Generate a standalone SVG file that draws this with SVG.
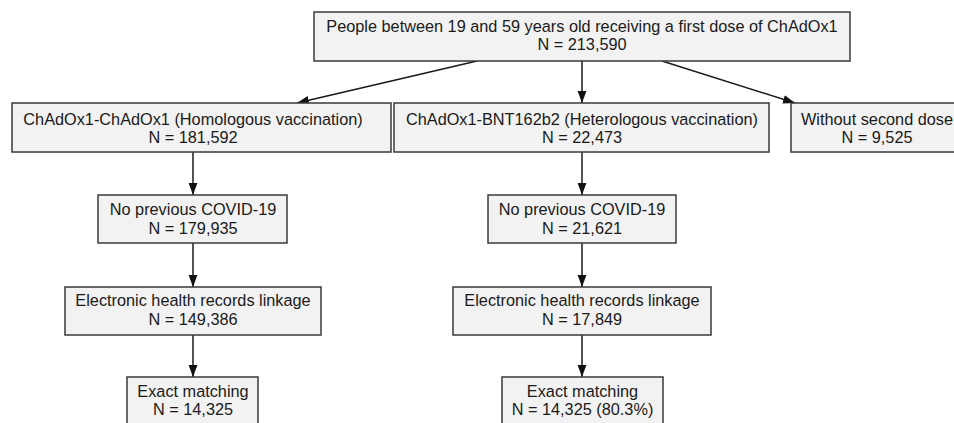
<svg xmlns="http://www.w3.org/2000/svg" width="954" height="423" viewBox="0 0 954 423">
<defs>
<style>
.box{fill:#f2f2f2;stroke:#3a3a3a;stroke-width:1.5}
.t{font-family:"Liberation Sans",Arial,sans-serif;font-size:16.3px;fill:#1a1a1a;text-anchor:middle}
.c{stroke:#1a1a1a;stroke-width:1.5;fill:none}
</style>
<marker id="ah" viewBox="0 0 12 10" refX="12" refY="5" markerWidth="12" markerHeight="10" markerUnits="userSpaceOnUse" orient="auto">
<path d="M0,0.6 L12,5 L0,9.4 z" fill="#111"/>
</marker>
</defs>
<rect width="954" height="423" fill="#fff"/>
<g id="connectors">
<line class="c" x1="477" y1="61" x2="297" y2="103" marker-end="url(#ah)"/>
<line class="c" x1="582" y1="61" x2="582" y2="103" marker-end="url(#ah)"/>
<line class="c" x1="662" y1="61" x2="795" y2="103" marker-end="url(#ah)"/>
<line class="c" x1="193" y1="152" x2="193" y2="195" marker-end="url(#ah)"/>
<line class="c" x1="193" y1="243" x2="193" y2="287" marker-end="url(#ah)"/>
<line class="c" x1="193" y1="335" x2="193" y2="377" marker-end="url(#ah)"/>
<line class="c" x1="582" y1="152" x2="582" y2="195" marker-end="url(#ah)"/>
<line class="c" x1="582" y1="243" x2="582" y2="287" marker-end="url(#ah)"/>
<line class="c" x1="582" y1="335" x2="582" y2="377" marker-end="url(#ah)"/>
</g>
<g id="top">
<rect class="box" x="314" y="12" width="536" height="49"/>
<text class="t" x="582" y="31.5">People between 19 and 59 years old receiving a first dose of ChAdOx1</text>
<text class="t" x="582" y="50">N = 213,590</text>
</g>
<g id="homologous">
<rect class="box" x="12" y="103" width="379" height="49"/>
<text class="t" x="193" y="125">ChAdOx1-ChAdOx1 (Homologous vaccination)</text>
<text class="t" x="193" y="143">N = 181,592</text>
</g>
<g id="heterologous">
<rect class="box" x="394" y="103" width="375" height="49"/>
<text class="t" x="582" y="125">ChAdOx1-BNT162b2 (Heterologous vaccination)</text>
<text class="t" x="582" y="143">N = 22,473</text>
</g>
<g id="without">
<rect class="box" x="791" y="103" width="172" height="49"/>
<text class="t" x="877" y="125">Without second dose</text>
<text class="t" x="877" y="143">N = 9,525</text>
</g>
<g id="homo-noprev">
<rect class="box" x="98" y="195" width="189" height="48"/>
<text class="t" x="193" y="214.5">No previous COVID-19</text>
<text class="t" x="193" y="234">N = 179,935</text>
</g>
<g id="homo-ehr">
<rect class="box" x="65" y="287" width="256" height="48"/>
<text class="t" x="193" y="306">Electronic health records linkage</text>
<text class="t" x="193" y="325">N = 149,386</text>
</g>
<g id="homo-exact">
<rect class="box" x="127" y="377" width="131" height="60"/>
<text class="t" x="193" y="396.5">Exact matching</text>
<text class="t" x="193" y="415">N = 14,325</text>
</g>
<g id="hetero-noprev">
<rect class="box" x="488" y="195" width="188" height="48"/>
<text class="t" x="582" y="214.5">No previous COVID-19</text>
<text class="t" x="582" y="234">N = 21,621</text>
</g>
<g id="hetero-ehr">
<rect class="box" x="453" y="287" width="258" height="48"/>
<text class="t" x="582" y="306">Electronic health records linkage</text>
<text class="t" x="582" y="325">N = 17,849</text>
</g>
<g id="hetero-exact">
<rect class="box" x="502" y="377" width="161" height="60"/>
<text class="t" x="582.5" y="396.5">Exact matching</text>
<text class="t" x="582.5" y="415">N = 14,325 (80.3%)</text>
</g>
</svg>
